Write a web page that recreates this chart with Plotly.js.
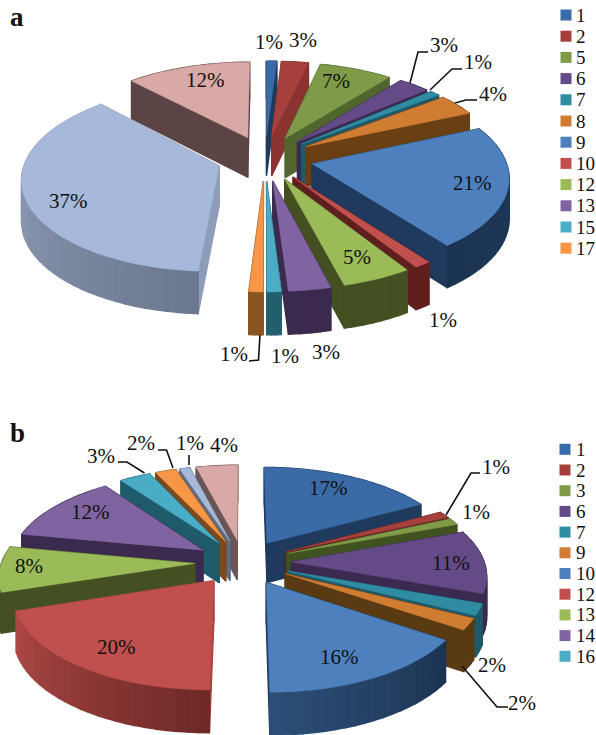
<!DOCTYPE html>
<html><head><meta charset="utf-8">
<script src="https://cdn.plot.ly/plotly-3.0.1.min.js"></script>
<style>html,body{margin:0;padding:0;background:#fff}</style></head>
<body><div id="chart" style="width:596px;height:735px"></div>
<script>
// ---------- data (labels print the rounded percentage) ----------
const legendA = ["1","2","5","6","7","8","9","10","12","13","15","17"];
const valuesA = [1,2.6,7,3,1,3.8,21.4,1.2,5,3,1,1,37,12];
const legendB = ["1","2","3","6","7","9","10","12","13","14","16"];
const valuesB = [17,1.2,1.2,11.1,2,2,15.5,20,8,12,3,2,1,4];

// ---------- styles ----------
const topA  = ["#3B6BA6","#A5403D","#7F9A48","#644A86","#2F8CA3","#D07C33","#4E80BD","#C0504D","#9BBB59","#8064A2","#4BACC6","#F79646","#A7B9DA","#D9A9A8"];
const wallA0= ["#1F3A5C","#7A2E2C","#51652F","#3A2A50","#1E5A69","#6B3F14","#1F3A5C","#5E1F1D","#445022","#3A2A4E","#245F6F","#8A5522","#6C788F","#5D4444"];
const wallA1= ["#1F3A5C","#7A2E2C","#51652F","#3A2A50","#1E5A69","#6B3F14","#1C3452","#5E1F1D","#445022","#3A2A4E","#245F6F","#8A5522","#A3B1CC","#5D4444"];
const sideA = ["#1F3A5C","#8A3331","#51652F","#3A2A50","#1E5A69","#6B3F14","#1F3A5C","#5E1F1D","#445022","#3A2A4E","#245F6F","#8A5522","#8D9CB9","#5D4444"];
const topB  = ["#3B6BA6","#A5403D","#7F9A48","#644A86","#2F8CA3","#D07C33","#4E80BD","#C0504D","#9BBB59","#8064A2","#4BACC6","#F79646","#A7B9DA","#D9A9A8"];
const wallB0= ["#1F3A5C","#5E1F1D","#3F5220","#3A2A50","#1E5A69","#5A3A12","#1C3452","#6F2A28","#445022","#3A2A4E","#1E5A69","#8A5522","#5E6A80","#5D4444"];
const wallB1= ["#1F3A5C","#5E1F1D","#3F5220","#3A2A50","#1E5A69","#5A3A12","#2D4F78","#B14A47","#445022","#3A2A4E","#1E5A69","#8A5522","#5E6A80","#5D4444"];
const sideB = ["#1F3A5C","#5E1F1D","#3F5220","#3A2A50","#1E5A69","#5A3A12","#1F3A5C","#A8443F","#445022","#3A2A4E","#1E5A69","#7A4A1E","#5E6A80","#6A5555"];

// ---------- geometry of the tilted, exploded pie ----------
const R = 193, S = 90, P = 0.128, PULL = 0.25, DEPTH = 40;
function proj(c, u, v, z) {
  const k = 1 / (1 - P * v);
  return [c[0] + R * u * k, c[1] + S * v * k + z * DEPTH * (1 + 0.06 * v)];
}
function mix(a, b, t) {
  const n = s => [1,3,5].map(i => parseInt(s.substr(i,2),16));
  const A = n(a), B = n(b);
  return "rgb(" + A.map((x,i) => Math.round(x + (B[i]-x)*t)).join(",") + ")";
}
function poly(pts, color, name, lw) {
  const xs = pts.map(p => p[0]).concat(pts[0][0]);
  const ys = pts.map(p => p[1]).concat(pts[0][1]);
  return {type:"scatter", mode:"lines", x:xs, y:ys, fill:"toself", fillcolor:color,
          line:{color:color, width:lw}, showlegend:false, hoverinfo:name?"name":"skip", name:name||""};
}
function pie(center, values, tops, w0, w1, sides, cats) {
  const total = values.reduce((a,b)=>a+b,0);
  let cum = 0;
  const slices = values.map((val,i) => {
    const a0 = cum/total*2*Math.PI; cum += val;
    const a1 = cum/total*2*Math.PI;
    const mid = (a0+a1)/2;
    const ox = PULL*Math.sin(mid), oy = -PULL*Math.cos(mid);
    const n = Math.max(3, Math.ceil((a1-a0)/0.05));
    const arc = [];
    for (let k=0;k<=n;k++){ const a=a0+(a1-a0)*k/n; arc.push([ox+Math.sin(a), oy-Math.cos(a), k/n]); }
    return {i, val, ox, oy, arc, key: oy - Math.cos(mid)*0.6};
  }).sort((a,b)=>a.key-b.key);
  const out = [];
  slices.forEach(s => {
    const faces = [];
    const apex = [s.ox, s.oy];
    const first = s.arc[0], last = s.arc[s.arc.length-1];
    [first,last].forEach(e => faces.push({
      key:(apex[1]+e[1])/2,
      pts:[proj(center,apex[0],apex[1],0),proj(center,e[0],e[1],0),proj(center,e[0],e[1],1),proj(center,apex[0],apex[1],1)],
      color:sides[s.i]}));
    for (let k=0;k<s.arc.length-1;k++){
      const a=s.arc[k], b=s.arc[k+1];
      faces.push({key:(a[1]+b[1])/2,
        pts:[proj(center,a[0],a[1],0),proj(center,b[0],b[1],0),proj(center,b[0],b[1],1),proj(center,a[0],a[1],1)],
        color:mix(w0[s.i],w1[s.i],a[2])});
    }
    faces.sort((x,y)=>x.key-y.key).forEach(f=>out.push(poly(f.pts,f.color,null,1.3)));
    const top=[proj(center,apex[0],apex[1],0)].concat(s.arc.map(p=>proj(center,p[0],p[1],0)));
    out.push(poly(top,tops[s.i],(cats[s.i]||"")+" "+Math.round(s.val)+"%",0.5));
  });
  return out;
}
function legendKey(x, y0, step, cats, colors) {
  return {type:"scatter", mode:"markers", x:cats.map(()=>x), y:cats.map((_,i)=>y0+i*step),
    marker:{symbol:"square", size:11, color:cats.map((_,i)=>colors[i])}, showlegend:false, hoverinfo:"skip"};
}
function leader(pts){
  return {type:"scatter", mode:"lines", x:pts.map(p=>p[0]), y:pts.map(p=>p[1]),
    line:{color:"#111", width:1.6}, showlegend:false, hoverinfo:"skip"};
}

// ---------- placement of labels and leaders ----------
const centerA=[265,158], centerB=[243,562];
const labelPosA=[[269,42],[303,40],[336,81],[444,45],[478,62],[493,94],[472,183],[443,320],[357,257],[326,352],[285,356],[234,354],[68,201],[205,80]];
const labelPosB=[[328,488],[496,467],[476,512],[451,563],[492,665],[522,703],[339,657],[116,647],[29,566],[90,512],[101,456],[141,443],[190,443],[224,445]];
const leadersA=[[[410,83],[418,52],[428,52]],[[430,90],[452,69],[462,69]],[[455,103],[466,100],[477,100]],[[260,335],[258.5,360],[249,361]]];
const leadersB=[[[446,515],[471,473],[480,473]],[[462,666],[497,707],[508,707]],[[144.5,473],[127,462],[118,462]],[[173,468],[166.5,450],[158,450]],[[189,465],[189,455]]];

const traces=[].concat(
  pie(centerA,valuesA,topA,wallA0,wallA1,sideA,legendA),
  pie(centerB,valuesB,topB,wallB0,wallB1,sideB,legendB),
  leadersA.map(leader), leadersB.map(leader),
  [legendKey(566,15,21.2,legendA,topA), legendKey(565,449.3,20.7,legendB,topB)]
);

const serif="Liberation Serif, Times New Roman, serif";
function txt(x,y,t,opt){
  return Object.assign({x,y,xref:"x",yref:"y",text:t,showarrow:false,xanchor:"center",yanchor:"middle",
    font:{family:serif,size:21,color:"#111"}},opt||{});
}
const legendFont={family:serif,size:19,color:"#111"};
const anns=[];
valuesA.forEach((v,i)=>anns.push(txt(labelPosA[i][0],labelPosA[i][1],Math.round(v)+"%")));
valuesB.forEach((v,i)=>anns.push(txt(labelPosB[i][0],labelPosB[i][1],Math.round(v)+"%")));
legendA.forEach((c,i)=>anns.push(txt(574,15+i*21.2,c,{xanchor:"left",font:legendFont})));
legendB.forEach((c,i)=>anns.push(txt(574,449.3+i*20.7,c,{xanchor:"left",font:legendFont})));
anns.push(txt(17,17,"<b>a</b>",{font:{family:serif,size:27,color:"#111"}}));
anns.push(txt(17,433,"<b>b</b>",{font:{family:serif,size:27,color:"#111"}}));

Plotly.newPlot("chart",traces,{
  width:596,height:735,margin:{l:0,r:0,t:0,b:0},
  paper_bgcolor:"#fff",plot_bgcolor:"#fff",showlegend:false,
  xaxis:{range:[0,596],visible:false,fixedrange:true},
  yaxis:{range:[735,0],visible:false,fixedrange:true},
  annotations:anns
},{displayModeBar:false,staticPlot:true});
</script></body></html>
